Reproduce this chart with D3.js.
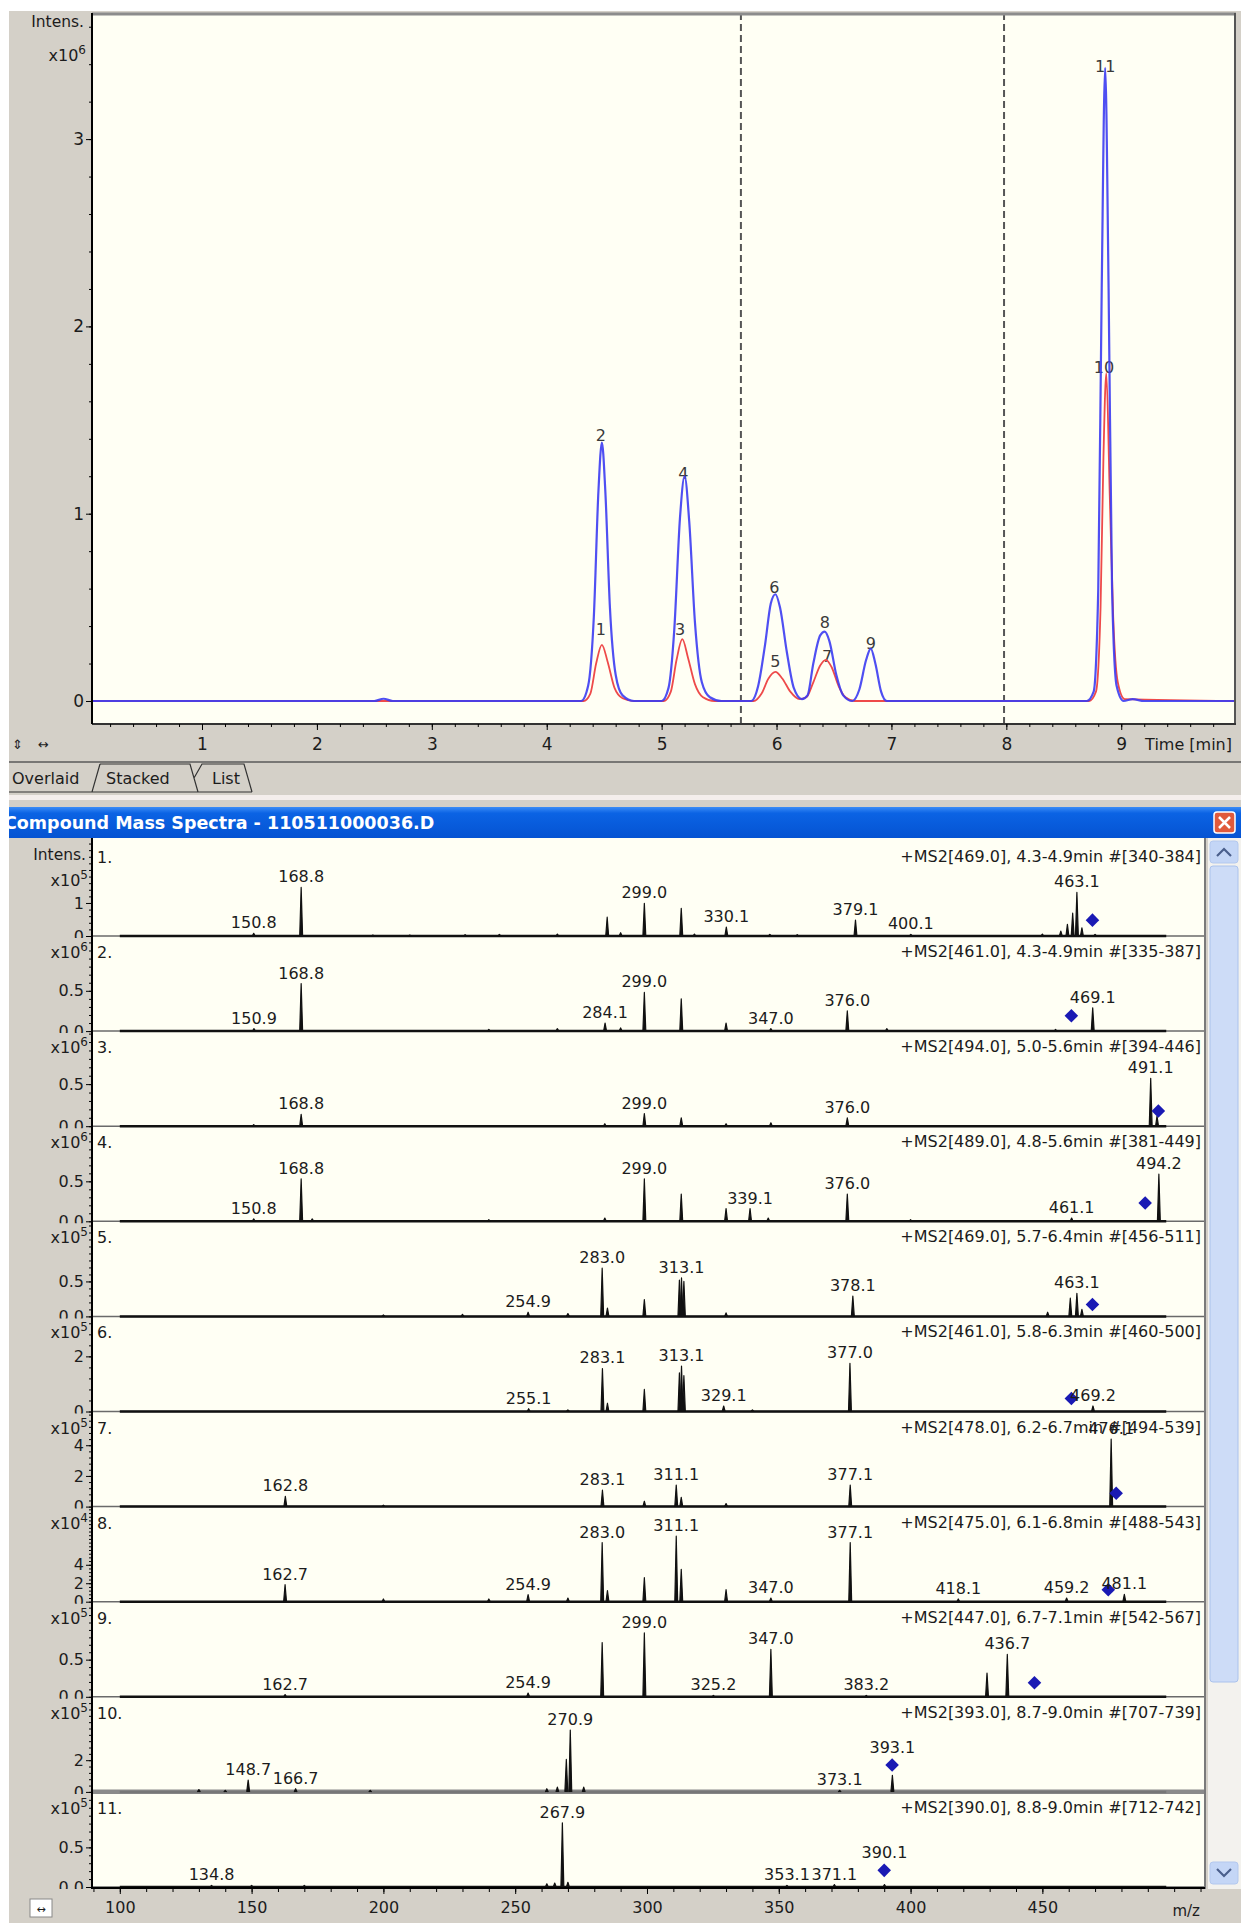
<!DOCTYPE html>
<html>
<head>
<meta charset="utf-8">
<script src="https://cdn.jsdelivr.net/npm/d3@7"></script>
<style>
body { margin: 0; background: #fff; }
text { font-family: "DejaVu Sans", sans-serif; fill: #1c1c1c; }
</style>
</head>
<body>
<div id="chart"></div>
<script>
// ---- chromatogram (time in min, intensity x10^6) ----
var timeTicks = [1, 2, 3, 4, 5, 6, 7, 8, 9];
var intensTicks = [0, 1, 2, 3];
var segmentLines = [5.69, 7.98];

var chromBlue = [
  [0.05,0],[2.5,0],[2.58,0.012],[2.66,0],[4.30,0],[4.36,0.08],[4.41,0.45],[4.45,1.12],[4.48,1.38],[4.51,1.12],
  [4.55,0.5],[4.60,0.14],[4.66,0.03],[4.76,0],[5.00,0],[5.06,0.07],[5.11,0.38],[5.16,0.98],[5.20,1.2],[5.24,0.96],
  [5.29,0.42],[5.35,0.1],[5.42,0.02],[5.52,0],[5.78,0],[5.84,0.08],[5.90,0.3],[5.95,0.52],[5.99,0.57],[6.03,0.5],
  [6.09,0.26],[6.15,0.07],[6.22,0.01],[6.27,0.03],[6.32,0.2],[6.38,0.35],[6.42,0.37],[6.46,0.32],[6.52,0.14],
  [6.58,0.03],[6.66,0],[6.72,0.06],[6.78,0.22],[6.82,0.28],[6.86,0.2],[6.91,0.05],[6.96,0],[8.70,0],[8.76,0.05],
  [8.80,0.6],[8.83,2.2],[8.86,3.38],[8.89,2.2],[8.92,0.6],[8.96,0.08],[9.02,0],[9.1,0.01],[9.2,0],[9.99,0]
];
var chromRed = [
  [0.05,0],[4.32,0],[4.38,0.04],[4.43,0.2],[4.48,0.3],[4.53,0.21],[4.59,0.07],[4.66,0.015],[4.76,0],
  [5.02,0],[5.08,0.05],[5.13,0.22],[5.18,0.33],[5.23,0.23],[5.29,0.09],[5.36,0.02],[5.46,0],
  [5.80,0],[5.87,0.04],[5.93,0.12],[5.99,0.155],[6.05,0.12],[6.12,0.05],[6.2,0.01],[6.26,0.02],[6.32,0.1],
  [6.38,0.19],[6.43,0.22],[6.48,0.18],[6.54,0.08],[6.6,0.02],[6.68,0],
  [8.72,0],[8.78,0.05],[8.82,0.5],[8.845,1.3],[8.87,1.75],[8.90,1.1],[8.93,0.45],[8.97,0.1],[9.03,0.01],[9.99,0]
];
// label, time, intensity at text baseline
var chromLabels = [
  ["2",4.47,1.39],["1",4.47,0.35],["4",5.19,1.185],["3",5.16,0.35],["6",5.98,0.577],["5",5.99,0.18],
  ["8",6.42,0.39],["7",6.44,0.21],["9",6.82,0.28],["11",8.86,3.36],["10",8.85,1.75]
];

// ---- compound mass spectra ----
var mzTicks = [100, 150, 200, 250, 300, 350, 400, 450];
var spectraHeaders = [
  "+MS2[469.0], 4.3-4.9min #[340-384]",
  "+MS2[461.0], 4.3-4.9min #[335-387]",
  "+MS2[494.0], 5.0-5.6min #[394-446]",
  "+MS2[489.0], 4.8-5.6min #[381-449]",
  "+MS2[469.0], 5.7-6.4min #[456-511]",
  "+MS2[461.0], 5.8-6.3min #[460-500]",
  "+MS2[478.0], 6.2-6.7min #[494-539]",
  "+MS2[475.0], 6.1-6.8min #[488-543]",
  "+MS2[447.0], 6.7-7.1min #[542-567]",
  "+MS2[393.0], 8.7-9.0min #[707-739]",
  "+MS2[390.0], 8.8-9.0min #[712-742]"
];
var spectraExp = [5, 6, 6, 6, 5, 5, 5, 4, 5, 5, 5];
var spectraMax = [2.88, 1.18, 1.13, 1.19, 1.36, 3.45, 6.2, 10.3, 1.28, 6.0, 1.2];
var spectraTicks = [[0,1],[0,0.5],[0,0.5],[0,0.5],[0,0.5],[0,2],[0,2,4],[0,2,4],[0,0.5],[0,2],[0,0.5]];

// [m/z, intensity, labelled]
var peaks1 = [[150.8,0.08,1],[168.8,1.47,1],[196,0.03,0],[210,0.03,0],[231,0.04,0],[244,0.05,0],[266,0.06,0],
  [284.9,0.57,0],[290,0.1,0],[299.0,0.99,1],[313.0,0.84,0],[318,0.06,0],[330.1,0.27,1],[346.6,0.05,0],[357,0.04,0],
  [379.1,0.48,1],[400.1,0.05,1],[450,0.06,0],[457,0.15,0],[459.5,0.35,0],[461.5,0.69,0],[463.1,1.32,1],[465,0.25,0],[470,0.05,0]];
var peaks2 = [[150.9,0.03,1],[168.8,0.59,1],[240,0.02,0],[266,0.03,0],[284.1,0.1,1],[290,0.04,0],[299.0,0.48,1],
  [313.0,0.4,0],[330.0,0.1,0],[347.0,0.03,1],[376.0,0.25,1],[391,0.03,0],[455,0.02,0],[469.1,0.29,1]];
var peaks3 = [[150.8,0.02,0],[168.8,0.14,1],[284,0.03,0],[299.0,0.15,1],[313,0.1,0],[330,0.03,0],[347,0.04,0],
  [376.0,0.1,1],[491.1,0.57,1],[493.5,0.12,0]];
var peaks4 = [[150.8,0.03,1],[168.8,0.53,1],[173,0.03,0],[240,0.02,0],[284,0.04,0],[299.0,0.53,1],[313,0.34,0],
  [330,0.16,0],[339.1,0.16,1],[346,0.04,0],[376.0,0.34,1],[400,0.02,0],[461.1,0.04,1],[494.2,0.59,1]];
var peaks5 = [[200,0.02,0],[230,0.03,0],[254.9,0.06,1],[270,0.04,0],[283.0,0.69,1],[285,0.12,0],[299,0.24,0],
  [312.3,0.52,0],[313.1,0.55,1],[314.0,0.5,0],[330,0.05,0],[378.1,0.29,1],[452,0.06,0],[460.6,0.26,0],[463.1,0.33,1],[465,0.1,0]];
var peaks6 = [[255.1,0.1,1],[270,0.06,0],[283.1,1.56,1],[285,0.3,0],[299,0.8,0],[312.3,1.4,0],[313.1,1.65,1],
  [314.0,1.3,0],[329.1,0.2,1],[340,0.06,0],[377.0,1.75,1],[469.2,0.2,1]];
var peaks7 = [[162.8,0.67,1],[200,0.1,0],[283.1,1.07,1],[299,0.35,0],[311.1,1.4,1],[313,0.6,0],[330,0.2,0],
  [377.1,1.4,1],[476.1,4.4,1]];
var peaks8 = [[162.7,1.84,1],[200,0.3,0],[240,0.3,0],[254.9,0.76,1],[270,0.4,0],[283.0,6.4,1],[285,1.2,0],[299,2.6,0],
  [311.1,7.1,1],[313,3.5,0],[330,1.3,0],[347.0,0.4,1],[377.1,6.4,1],[418.1,0.3,1],[459.2,0.4,1],[481.1,0.8,1]];
var peaks9 = [[162.7,0.03,1],[254.9,0.05,1],[283,0.73,0],[299.0,0.86,1],[325.2,0.02,1],[347.0,0.64,1],[383.2,0.02,1],
  [429,0.32,0],[436.7,0.57,1]];
var peaks10 = [[130,0.15,0],[140,0.1,0],[148.7,0.75,1],[166.7,0.2,1],[195,0.1,0],[262,0.2,0],[266,0.3,0],[269.4,2.05,0],
  [270.9,3.9,1],[276,0.3,0],[373.1,0.1,1],[393.1,1.05,1]];
var peaks11 = [[134.8,0.02,1],[150,0.02,0],[170,0.02,0],[262,0.04,0],[265,0.05,0],[267.9,0.81,1],[270,0.06,0],
  [353.1,0.02,1],[371.1,0.03,1],[390.1,0.03,1]];
var spectraPeaks = [peaks1, peaks2, peaks3, peaks4, peaks5, peaks6, peaks7, peaks8, peaks9, peaks10, peaks11];
// precursor marker [m/z, intensity]
var precursors = [[469.0,0.48],[461.0,0.19],[494.0,0.18],[489.0,0.23],[469.0,0.17],[461.0,0.47],
  [478.0,0.87],[475.0,1.3],[447.0,0.19],[393.0,1.7],[390.0,0.21]];

var W = 1241, H = 1923;
var svg = d3.select("#chart").append("svg").attr("width", W).attr("height", H);
var defs = svg.append("defs");

svg.append("rect").attr("width", W).attr("height", H).attr("fill", "#fff");
svg.append("rect").attr("x", 9).attr("y", 11).attr("width", W - 9).attr("height", H - 11).attr("fill", "#d4d0c8");

// ================= chromatogram =================
var xC = d3.scaleLinear().domain([0.0426, 9.99]).range([92, 1235]);
var yC = d3.scaleLinear().domain([-0.1228, 3.6733]).range([724, 13]);

svg.append("rect").attr("x", 92).attr("y", 13).attr("width", 1143).attr("height", 711).attr("fill", "#fffff4");
defs.append("clipPath").attr("id", "chromclip").append("rect")
  .attr("x", 92).attr("y", 13).attr("width", 1143).attr("height", 711);

var gC = svg.append("g").attr("clip-path", "url(#chromclip)");

segmentLines.forEach(function(t) {
  gC.append("line").attr("x1", xC(t)).attr("x2", xC(t)).attr("y1", 13).attr("y2", 724)
    .attr("stroke", "#555").attr("stroke-width", 2).attr("stroke-dasharray", "7,4");
});

gC.selectAll("text.pk").data(chromLabels).join("text").attr("class", "pk")
  .attr("x", function(d) { return xC(d[1]); })
  .attr("y", function(d) { return yC(d[2]); })
  .attr("text-anchor", "middle").attr("font-size", 16).style("fill", "#3a3a3a")
  .text(function(d) { return d[0]; });

var chromLine = d3.line()
  .x(function(d) { return xC(d[0]); })
  .y(function(d) { return yC(d[1]); })
  .curve(d3.curveMonotoneX);

gC.append("path").datum(chromRed).attr("d", chromLine)
  .attr("fill", "none").attr("stroke", "#ee4a4a").attr("stroke-width", 1.8);
gC.append("path").datum(chromBlue).attr("d", chromLine)
  .attr("fill", "none").attr("stroke", "#3c3cf2").attr("stroke-width", 2.2).attr("stroke-opacity", 0.9);

// frame
svg.append("line").attr("x1", 92).attr("x2", 1236).attr("y1", 14).attr("y2", 14).attr("stroke", "#8c8c8c").attr("stroke-width", 3);
svg.append("line").attr("x1", 1235).attr("x2", 1235).attr("y1", 13).attr("y2", 725).attr("stroke", "#555").attr("stroke-width", 2);
svg.append("line").attr("x1", 92).attr("x2", 1236).attr("y1", 724).attr("y2", 724).attr("stroke", "#333").attr("stroke-width", 2);

// y axis
svg.append("g").attr("transform", "translate(92,0)")
  .call(d3.axisLeft(yC).tickValues(d3.range(0, 3.61, 0.2)).tickSize(3).tickFormat(""))
  .call(function(g) { g.select(".domain").remove(); });
svg.append("g").attr("transform", "translate(92,0)")
  .call(d3.axisLeft(yC).tickValues(intensTicks).tickSize(6).tickPadding(2).tickSizeOuter(0).tickFormat(d3.format("d")))
  .attr("font-size", 17).attr("font-family", "DejaVu Sans")
  .call(function(g) { g.select(".domain").attr("d", "M0,13V724").attr("stroke-width", 2); });

svg.append("text").attr("x", 84).attr("y", 27).attr("text-anchor", "end").attr("font-size", 15.5).text("Intens.");
var c10 = svg.append("text").attr("x", 86).attr("y", 61).attr("text-anchor", "end").attr("font-size", 16);
c10.append("tspan").text("x10");
c10.append("tspan").attr("dy", -7).attr("font-size", 12).text("6");

// x axis
svg.append("g").attr("transform", "translate(0,724)")
  .call(d3.axisBottom(xC).tickValues(d3.range(0.2, 9.9, 0.2)).tickSize(3).tickFormat(""))
  .call(function(g) { g.select(".domain").remove(); });
svg.append("g").attr("transform", "translate(0,724)")
  .call(d3.axisBottom(xC).tickValues(timeTicks).tickSize(6).tickPadding(8).tickFormat(d3.format("d")))
  .attr("font-size", 17).attr("font-family", "DejaVu Sans")
  .call(function(g) { g.select(".domain").remove(); });
svg.append("text").attr("x", 1232).attr("y", 750).attr("text-anchor", "end").attr("font-size", 16).text("Time [min]");

svg.append("text").attr("x", 12).attr("y", 749).attr("font-size", 13).text("\u21D5");
svg.append("text").attr("x", 38).attr("y", 749).attr("font-size", 13).text("\u2194");

// tab strip
svg.append("line").attr("x1", 9).attr("x2", W).attr("y1", 762).attr("y2", 762).attr("stroke", "#5a5a5a").attr("stroke-width", 1.5);
svg.append("path").attr("d", "M9,792 L92,792 L100,764 M100,764 L190,764 L198,792 M194,778 L202,764 L244,764 L252,792 M9,792 L252,792")
  .attr("fill", "none").attr("stroke", "#333").attr("stroke-width", 1.2);
svg.append("text").attr("x", 12).attr("y", 784).attr("font-size", 16).text("Overlaid");
svg.append("text").attr("x", 106).attr("y", 784).attr("font-size", 16).text("Stacked");
svg.append("text").attr("x", 212).attr("y", 784).attr("font-size", 16).text("List");
svg.append("rect").attr("x", 9).attr("y", 795).attr("width", W - 9).attr("height", 5).attr("fill", "#f4eeec");

// title bar
var grad = defs.append("linearGradient").attr("id", "bar").attr("x1", 0).attr("x2", 0).attr("y1", 0).attr("y2", 1);
grad.append("stop").attr("offset", 0).attr("stop-color", "#3b8cf6");
grad.append("stop").attr("offset", 0.2).attr("stop-color", "#0b63e4");
grad.append("stop").attr("offset", 1).attr("stop-color", "#0553d2");
svg.append("rect").attr("x", 9).attr("y", 807).attr("width", W - 9).attr("height", 31).attr("fill", "url(#bar)");
svg.append("text").attr("x", 4).attr("y", 829).attr("font-size", 17.5).attr("font-weight", "bold")
  .style("fill", "#fff").text("Compound Mass Spectra - 110511000036.D");
svg.append("rect").attr("x", 1214).attr("y", 812).attr("width", 21).attr("height", 21).attr("rx", 3)
  .attr("fill", "#e05a3c").attr("stroke", "#fff").attr("stroke-width", 1.5);
svg.append("path").attr("d", "M1219,817 L1230,828 M1230,817 L1219,828").attr("stroke", "#fff").attr("stroke-width", 2.5);

// ================= spectra =================
var xS = d3.scaleLinear().domain([89.45, 511.7]).range([92, 1205]);
var base = d3.scaleLinear().domain([0, 10]).range([936, 1887]);
var panelH = 95.1;

svg.append("rect").attr("x", 92).attr("y", 838).attr("width", 1113).attr("height", 1050).attr("fill", "#fffff4");

var stick = d3.line().x(function(d) { return d[0]; }).y(function(d) { return d[1]; });

spectraPeaks.forEach(function(peaks, i) {
  var b = base(i), top = b - panelH;
  var y = d3.scaleLinear().domain([0, spectraMax[i]]).range([b, top]);
  var step = spectraTicks[i][1];
  var fmt = step < 1 ? d3.format(".1f") : d3.format("d");

  defs.append("clipPath").attr("id", "clip" + i).append("rect")
    .attr("x", 9).attr("y", top).attr("width", 1196).attr("height", panelH + 2);
  var g = svg.append("g").attr("clip-path", "url(#clip" + i + ")");

  g.append("g").attr("transform", "translate(92,0)")
    .call(d3.axisLeft(y).tickValues(d3.range(0, spectraMax[i], step / 5)).tickSize(3).tickFormat(""))
    .call(function(a) { a.select(".domain").remove(); });
  g.append("g").attr("transform", "translate(92,0)")
    .call(d3.axisLeft(y).tickValues(spectraTicks[i]).tickSize(6).tickPadding(2).tickFormat(fmt))
    .attr("font-size", 16).attr("font-family", "DejaVu Sans")
    .call(function(a) { a.select(".domain").remove(); });

  // baseline
  if (i === 9) {
    g.append("line").attr("x1", 92).attr("x2", 1205).attr("y1", b).attr("y2", b)
      .attr("stroke", "#8a8a8a").attr("stroke-width", 5);
  } else {
    g.append("line").attr("x1", 92).attr("x2", 1205).attr("y1", b).attr("y2", b)
      .attr("stroke", "#6a6a6a").attr("stroke-width", 1.5);
  }
  g.append("line").attr("x1", xS(100)).attr("x2", xS(497)).attr("y1", b).attr("y2", b)
    .attr("stroke", i === 9 ? "#777" : "#111").attr("stroke-width", 2.5);

  g.selectAll("path.pk").data(peaks).join("path").attr("class", "pk")
    .attr("d", function(d) {
      return stick([[xS(d[0] - 0.55), b], [xS(d[0]), y(d[1])], [xS(d[0] + 0.55), b]]);
    })
    .attr("fill", "#111").attr("stroke", "#111").attr("stroke-width", 1.2).attr("stroke-linejoin", "round");

  var pre = precursors[i];
  var preY = y(pre[1]);
  g.append("path").attr("d", d3.symbol(d3.symbolSquare, 92)())
    .attr("transform", "translate(" + xS(pre[0]) + "," + preY + ") rotate(45)")
    .attr("fill", "#1a1ab4");

  g.selectAll("text.lb").data(peaks.filter(function(d) { return d[2]; })).join("text").attr("class", "lb")
    .attr("x", function(d) { return xS(d[0]); })
    .attr("y", function(d) {
      var yy = y(d[1]);
      if (Math.abs(d[0] - pre[0]) < 1.5) yy = Math.min(yy, preY - 7);
      return yy - 5;
    })
    .attr("text-anchor", "middle").attr("font-size", 16)
    .text(function(d) { return d[0].toFixed(1); });

  g.append("text").attr("x", 1201).attr("y", top + 21).attr("text-anchor", "end").attr("font-size", 16)
    .text(spectraHeaders[i]);
  g.append("text").attr("x", 97).attr("y", top + 22).attr("font-size", 16).text((i + 1) + ".");

  if (i === 0) {
    g.append("text").attr("x", 86).attr("y", top + 19).attr("text-anchor", "end").attr("font-size", 15.5).text("Intens.");
  }
  var ex = g.append("text").attr("x", 88).attr("y", i === 0 ? top + 45 : top + 22)
    .attr("text-anchor", "end").attr("font-size", 16);
  ex.append("tspan").text("x10");
  ex.append("tspan").attr("dy", -7).attr("font-size", 12).text(spectraExp[i]);
});

// left axis line and right border
svg.append("line").attr("x1", 92).attr("x2", 92).attr("y1", 838).attr("y2", 1889).attr("stroke", "#000").attr("stroke-width", 2);
svg.append("line").attr("x1", 1205).attr("x2", 1205).attr("y1", 838).attr("y2", 1889).attr("stroke", "#7a7a7a").attr("stroke-width", 2);

// m/z axis
svg.append("g").attr("transform", "translate(0,1888)")
  .call(d3.axisBottom(xS).tickValues(d3.range(90, 511, 10)).tickSize(4).tickFormat(""))
  .call(function(a) { a.select(".domain").remove(); });
svg.append("g").attr("transform", "translate(0,1888)")
  .call(d3.axisBottom(xS).tickValues(mzTicks).tickSize(6).tickPadding(8).tickFormat(d3.format("d")))
  .attr("font-size", 16).attr("font-family", "DejaVu Sans")
  .call(function(a) { a.select(".domain").attr("d", "M92,0H1205").attr("stroke-width", 2); });
svg.append("text").attr("x", 1200).attr("y", 1916).attr("text-anchor", "end").attr("font-size", 15).text("m/z");

svg.append("rect").attr("x", 30).attr("y", 1899).attr("width", 22).attr("height", 18)
  .attr("fill", "#fff").attr("stroke", "#888");
svg.append("text").attr("x", 41).attr("y", 1913).attr("text-anchor", "middle").attr("font-size", 11).text("\u2194");

// scrollbar
svg.append("rect").attr("x", 1208).attr("y", 838).attr("width", 33).attr("height", 1051).attr("fill", "#f3f2ee");
svg.append("rect").attr("x", 1210).attr("y", 866).attr("width", 28).attr("height", 816).attr("rx", 3)
  .attr("fill", "#cddcf7").attr("stroke", "#aac2ec");
[[841, "M1217,856 L1224,849 L1231,856"], [1862, "M1217,1869 L1224,1876 L1231,1869"]].forEach(function(btn) {
  svg.append("rect").attr("x", 1210).attr("y", btn[0]).attr("width", 28).attr("height", 22).attr("rx", 3)
    .attr("fill", "#c4d6f6").attr("stroke", "#b3c8ee");
  svg.append("path").attr("d", btn[1]).attr("fill", "none").attr("stroke", "#4a5f8c").attr("stroke-width", 2.2);
});

// white page margin
svg.append("rect").attr("x", 0).attr("y", 0).attr("width", 9).attr("height", H).attr("fill", "#fff");
</script>
</body>
</html>
